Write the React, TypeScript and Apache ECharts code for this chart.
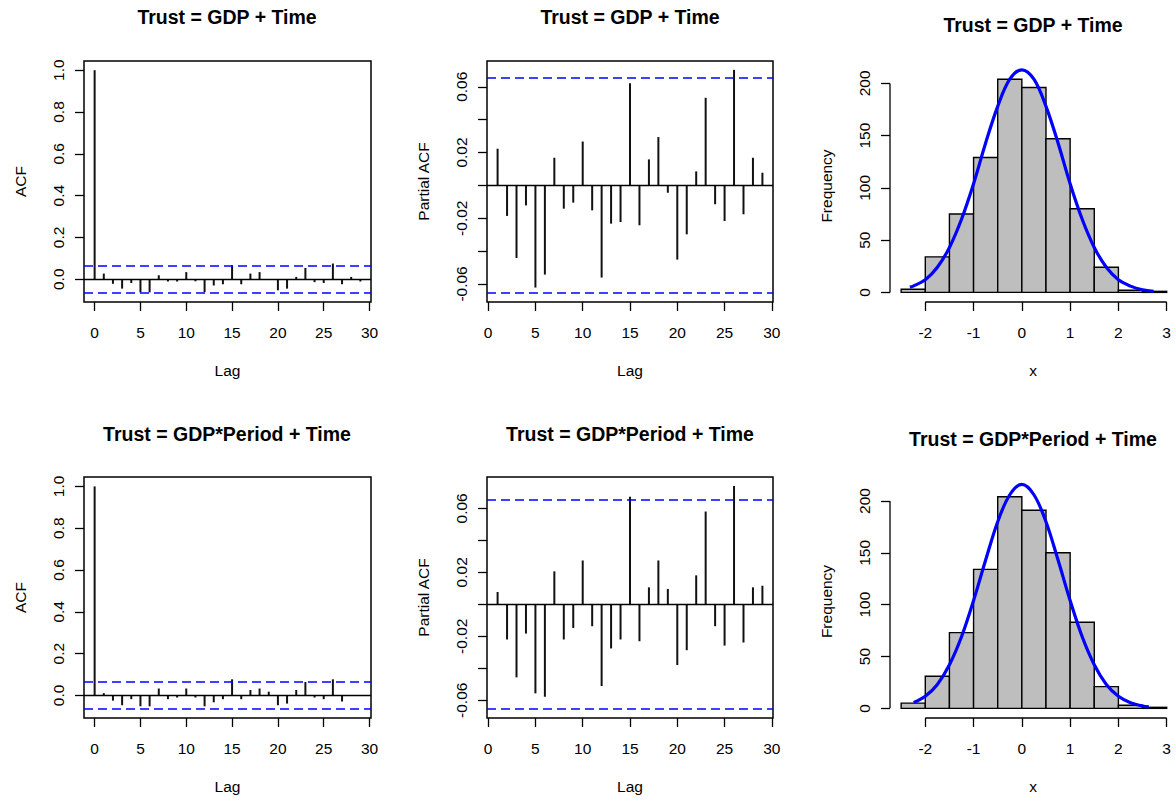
import React, { useEffect, useRef } from "react";
import * as echarts from "echarts";

// ---- Residual diagnostics data ----
const ACF_LAGS = [0, 1, 2, 3, 4, 5, 6, 7, 8, 9, 10, 11, 12, 13, 14, 15, 16, 17, 18, 19, 20, 21, 22, 23, 24, 25, 26, 27, 28, 29];
const PACF_LAGS = [1, 2, 3, 4, 5, 6, 7, 8, 9, 10, 11, 12, 13, 14, 15, 16, 17, 18, 19, 20, 21, 22, 23, 24, 25, 26, 27, 28, 29];

// Model 1: Trust = GDP + Time
const acfModel1 = [1.0, 0.027, -0.022, -0.045, -0.018, -0.063, -0.063, 0.019, -0.011, -0.011, 0.034, -0.010, -0.062, -0.030, -0.024, 0.067, -0.024, 0.027, 0.034, -0.003, -0.053, -0.045, 0.011, 0.054, -0.014, -0.018, 0.075, -0.024, 0.011, -0.011];
const pacfModel1 = [0.0223, -0.0186, -0.0442, -0.0122, -0.0622, -0.0543, 0.0168, -0.0142, -0.0105, 0.0267, -0.0152, -0.0561, -0.0233, -0.0223, 0.0622, -0.0243, 0.0158, 0.0294, -0.0045, -0.0452, -0.0298, 0.0085, 0.0533, -0.0115, -0.0217, 0.0703, -0.0176, 0.0168, 0.0077];

// Model 2: Trust = GDP*Period + Time
const acfModel2 = [1.0, 0.011, -0.025, -0.047, -0.018, -0.052, -0.052, 0.033, -0.018, -0.010, 0.033, -0.010, -0.052, -0.033, -0.018, 0.077, -0.018, 0.026, 0.033, 0.018, -0.047, -0.039, 0.026, 0.064, -0.010, -0.018, 0.077, -0.029, 0.002, -0.002];
const pacfModel2 = [0.0077, -0.022, -0.0457, -0.0183, -0.0557, -0.0578, 0.0206, -0.022, -0.0148, 0.0274, -0.0137, -0.0511, -0.0276, -0.022, 0.0673, -0.0231, 0.0106, 0.0274, 0.0096, -0.038, -0.0287, 0.0181, 0.058, -0.0137, -0.0258, 0.074, -0.0239, 0.0106, 0.0116];

// 95% white-noise bound
const CONF_LIMIT = 0.0655;

// Histogram of residuals
const HIST_BREAKS = [-2.5, -2, -1.5, -1, -0.5, 0, 0.5, 1, 1.5, 2, 2.5, 3];
const histModel1 = [3, 34, 75, 129, 204, 196, 147, 80, 24, 2, 1];
const histModel2 = [5, 31, 73, 134, 204, 191, 150, 83, 21, 3, 1];

// Fitted normal curve (frequency scale)
const curveX1 = [-2.32, -2.25, -2, -1.75, -1.5, -1.25, -1, -0.75, -0.5, -0.25, 0, 0.25, 0.5, 0.75, 1, 1.25, 1.5, 1.75, 2, 2.25, 2.5, 2.73];
const curveY1 = [5, 6, 12, 24, 43, 70, 104, 143, 178, 204, 213, 204, 178, 143, 104, 70, 43, 24, 12, 6, 2.5, 1];
const curveX2 = [-2.24, -2, -1.75, -1.5, -1.25, -1, -0.75, -0.5, -0.25, 0, 0.25, 0.5, 0.75, 1, 1.25, 1.5, 1.75, 2, 2.25, 2.5, 2.63];
const curveY2 = [5.6, 11.6, 23, 42, 69, 104, 143, 180, 206, 216, 206, 180, 143, 104, 69, 42, 23, 11.6, 5.4, 2.3, 1.4];

// Tick labels
const LAG_TICKS = [0, 5, 10, 15, 20, 25, 30];
const ACF_TICKS = [0, 0.2, 0.4, 0.6, 0.8, 1.0];
const PACF_TICKS = [-0.06, -0.04, -0.02, 0, 0.02, 0.04, 0.06];
const PACF_LABELS = [-0.06, -0.02, 0.02, 0.06];
const HIST_X_TICKS = [-2, -1, 0, 1, 2, 3];
const HIST_Y_TICKS = [0, 50, 100, 150, 200];

const TITLE1 = "Trust = GDP + Time";
const TITLE2 = "Trust = GDP*Period + Time";

const FONT = "'Liberation Sans', Arial, Helvetica, sans-serif";
const INK = "#000";

const textStyle = { fontSize: 15.5, color: INK, fontFamily: FONT };

type Frame = { left: number; top: number; width: number; height: number };

const FRAMES: Frame[] = [
  { left: 84, top: 61, width: 287, height: 241 },
  { left: 487, top: 61, width: 286, height: 241 },
  { left: 890, top: 70, width: 286, height: 232 },
  { left: 84, top: 477, width: 287, height: 241 },
  { left: 487, top: 477, width: 286, height: 241 },
  { left: 890, top: 485, width: 286, height: 233 },
];

const RANGES = [
  { x: [-1.16, 30.16], y: [-0.109, 1.044] },
  { x: [-0.12, 30.12], y: [-0.071, 0.0757] },
  { x: [-2.731, 3.193], y: [-9.2, 212.8] },
  { x: [-1.16, 30.16], y: [-0.108, 1.045] },
  { x: [-0.12, 30.12], y: [-0.0711, 0.0796] },
  { x: [-2.731, 3.193], y: [-9.3, 215.4] },
];

const TITLES = [
  { text: TITLE1, x: 227, y: 17 },
  { text: TITLE1, x: 630, y: 17 },
  { text: TITLE1, x: 1033, y: 25 },
  { text: TITLE2, x: 227, y: 434 },
  { text: TITLE2, x: 630, y: 434 },
  { text: TITLE2, x: 1033, y: 439 },
];

function xAxisFor(i: number, name: string, ticks: number[], fmt: (v: number) => string) {
  return {
    type: "value",
    gridIndex: i,
    min: RANGES[i].x[0],
    max: RANGES[i].x[1],
    axisLine: { show: false, onZero: false },
    axisTick: { show: true, length: 9, lineStyle: { color: INK, width: 1.3 }, customValues: ticks },
    axisLabel: { customValues: ticks, margin: 22, formatter: fmt, ...textStyle },
    splitLine: { show: false },
    name,
    nameLocation: "middle",
    nameGap: 60,
    nameTextStyle: textStyle,
  };
}

function yAxisFor(i: number, name: string, ticks: number[], labels: number[], fmt: (v: number) => string) {
  return {
    type: "value",
    gridIndex: i,
    min: RANGES[i].y[0],
    max: RANGES[i].y[1],
    axisLine: { show: false, onZero: false },
    axisTick: { show: true, length: 9, lineStyle: { color: INK, width: 1.3 }, customValues: ticks },
    axisLabel: { customValues: labels, rotate: 90, margin: 18, formatter: fmt, ...textStyle },
    splitLine: { show: false },
    name,
    nameLocation: "middle",
    nameRotate: 90,
    nameGap: 56,
    nameTextStyle: textStyle,
  };
}

function correlogram(i: number, lags: number[], values: number[]) {
  return {
    type: "bar",
    xAxisIndex: i,
    yAxisIndex: i,
    barWidth: 2,
    silent: true,
    itemStyle: { color: "#111" },
    data: lags.map((l, k) => [l, values[k]]),
    markLine: {
      silent: true,
      precision: 5,
      symbol: ["none", "none"],
      label: { show: false },
      data: [
        { yAxis: 0, lineStyle: { type: "solid", color: INK, width: 1.4 } },
        { yAxis: CONF_LIMIT, lineStyle: { type: [9, 5], color: "#0000ff", width: 1.5 } },
        { yAxis: -CONF_LIMIT, lineStyle: { type: [9, 5], color: "#0000ff", width: 1.5 } },
      ],
    },
  };
}

function histogram(i: number, counts: number[]) {
  return {
    type: "custom",
    xAxisIndex: i,
    yAxisIndex: i,
    silent: true,
    clip: false,
    encode: { x: [0, 1], y: 2 },
    data: counts.map((c, k) => [HIST_BREAKS[k], HIST_BREAKS[k + 1], c]),
    renderItem: (_p: any, api: any) => {
      const p0 = api.coord([api.value(0), 0]);
      const p1 = api.coord([api.value(1), api.value(2)]);
      return {
        type: "rect",
        shape: { x: p0[0], y: p1[1], width: p1[0] - p0[0], height: p0[1] - p1[1] },
        style: { fill: "#bebebe", stroke: INK, lineWidth: 1.4 },
      };
    },
  };
}

function axisSegment(i: number, pts: number[][]) {
  return {
    type: "line",
    xAxisIndex: i,
    yAxisIndex: i,
    silent: true,
    clip: false,
    symbol: "none",
    lineStyle: { color: INK, width: 1.3 },
    data: pts,
  };
}

function curve(i: number, xs: number[], ys: number[]) {
  return {
    type: "line",
    xAxisIndex: i,
    yAxisIndex: i,
    silent: true,
    clip: false,
    smooth: 0.35,
    symbol: "none",
    z: 5,
    lineStyle: { color: "#0000ff", width: 3.2 },
    data: xs.map((x, k) => [x, ys[k]]),
  };
}

const fmt1 = (v: number) => v.toFixed(1);
const fmt2 = (v: number) => v.toFixed(2);
const fmt0 = (v: number) => String(Math.round(v));

function buildOption() {
  const grid = FRAMES.map((f, i) => ({
    ...f,
    show: i !== 2 && i !== 5,
    borderColor: INK,
    borderWidth: 1.5,
    backgroundColor: "transparent",
    containLabel: false,
  }));

  const xAxis = [
    xAxisFor(0, "Lag", LAG_TICKS, fmt0),
    xAxisFor(1, "Lag", LAG_TICKS, fmt0),
    xAxisFor(2, "x", HIST_X_TICKS, fmt0),
    xAxisFor(3, "Lag", LAG_TICKS, fmt0),
    xAxisFor(4, "Lag", LAG_TICKS, fmt0),
    xAxisFor(5, "x", HIST_X_TICKS, fmt0),
  ];
  const yAxis = [
    yAxisFor(0, "ACF", ACF_TICKS, ACF_TICKS, fmt1),
    yAxisFor(1, "Partial ACF", PACF_TICKS, PACF_LABELS, fmt2),
    yAxisFor(2, "Frequency", HIST_Y_TICKS, HIST_Y_TICKS, fmt0),
    yAxisFor(3, "ACF", ACF_TICKS, ACF_TICKS, fmt1),
    yAxisFor(4, "Partial ACF", PACF_TICKS, PACF_LABELS, fmt2),
    yAxisFor(5, "Frequency", HIST_Y_TICKS, HIST_Y_TICKS, fmt0),
  ];

  const xFirst = HIST_X_TICKS[0];
  const xLast = HIST_X_TICKS[HIST_X_TICKS.length - 1];
  const yFirst = HIST_Y_TICKS[0];
  const yLast = HIST_Y_TICKS[HIST_Y_TICKS.length - 1];

  const series: any[] = [
    correlogram(0, ACF_LAGS, acfModel1),
    correlogram(1, PACF_LAGS, pacfModel1),
    histogram(2, histModel1),
    axisSegment(2, [[xFirst, RANGES[2].y[0]], [xLast, RANGES[2].y[0]]]),
    axisSegment(2, [[RANGES[2].x[0], yFirst], [RANGES[2].x[0], yLast]]),
    curve(2, curveX1, curveY1),
    correlogram(3, ACF_LAGS, acfModel2),
    correlogram(4, PACF_LAGS, pacfModel2),
    histogram(5, histModel2),
    axisSegment(5, [[xFirst, RANGES[5].y[0]], [xLast, RANGES[5].y[0]]]),
    axisSegment(5, [[RANGES[5].x[0], yFirst], [RANGES[5].x[0], yLast]]),
    curve(5, curveX2, curveY2),
  ];

  const graphic = TITLES.map((t) => ({
    type: "text",
    x: t.x,
    y: t.y,
    silent: true,
    style: {
      text: t.text,
      font: `bold 19.5px ${FONT}`,
      fill: INK,
      textAlign: "center",
      textVerticalAlign: "middle",
      align: "center",
      verticalAlign: "middle",
    },
  }));

  return {
    animation: false,
    backgroundColor: "#ffffff",
    grid,
    xAxis,
    yAxis,
    series,
    graphic,
  };
}

export default function App() {
  const ref = useRef<HTMLDivElement | null>(null);

  useEffect(() => {
    if (!ref.current) return;
    const chart = echarts.init(ref.current, null, { renderer: "svg" });
    chart.setOption(buildOption() as any);
    return () => {
      chart.dispose();
    };
  }, []);

  return (
    <div
      ref={ref}
      style={{ position: "absolute", left: 0, top: 0, width: 1176, height: 800, background: "#fff" }}
    />
  );
}
